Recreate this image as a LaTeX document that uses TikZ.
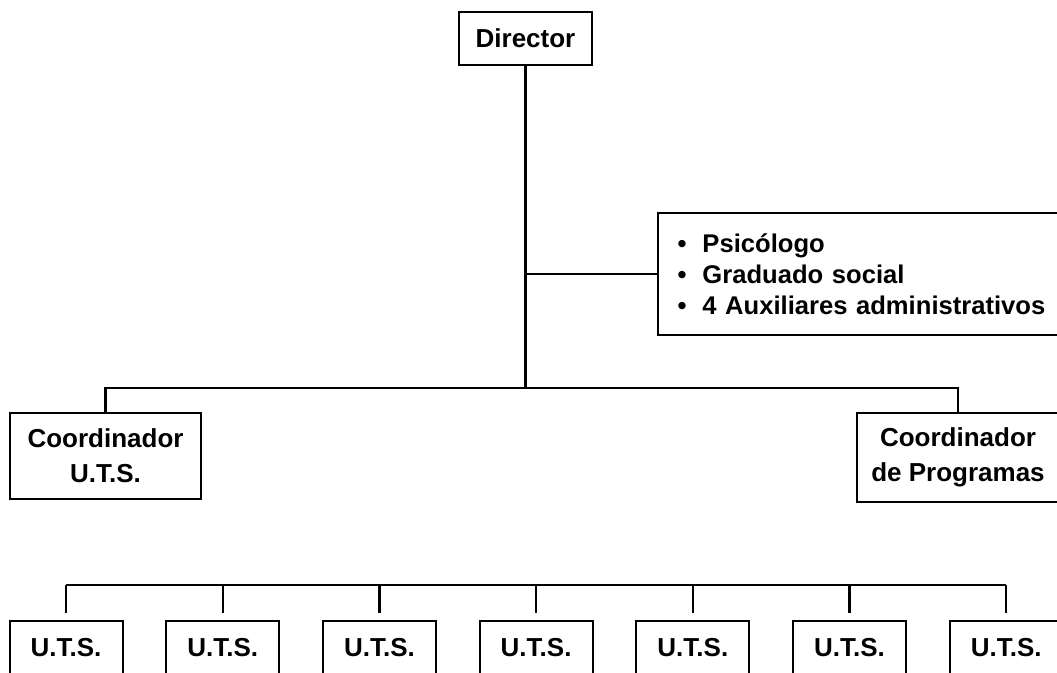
\documentclass[tikz,border=0pt]{standalone}
\usepackage{fontspec}
\setmainfont{Liberation Sans}
\begin{document}
\begin{tikzpicture}[x=0.5pt,y=-0.5pt,
  box/.style={draw, line width=1pt, font=\fontsize{13}{17.5}\selectfont\bfseries, align=center, inner sep=0pt},
  link/.style={line width=1.2pt}]
\clip (0,0) rectangle (1057,673);
% top of the chart
\node[box, minimum width=66.5pt, minimum height=26.5pt] (director) at (525.5,38.5) {Director};
\node[box, anchor=north west, text width=205pt, inner xsep=9.75pt, minimum height=61pt, align=left,
  font=\fontsize{12.8}{15.5}\selectfont\bfseries] (staff) at (657,212)
  {\textbullet\hspace{8pt}Psicólogo\\ \textbullet\hspace{8pt}Graduado social\\ \textbullet\hspace{8pt}4 Auxiliares administrativos};
\node[box, minimum width=95.5pt, minimum height=43pt] (coordUTS) at (105.5,456) {Coordinador\\U.T.S.};
\node[box, minimum width=101pt, minimum height=44.5pt] (coordProg) at (958,457.5) {Coordinador\\de Programas};
% row of units, cut by the lower edge
\foreach \i in {1,...,7}
  \node[box, anchor=north, minimum width=56.5pt, text height=14pt, text depth=30pt, inner ysep=4pt] (uts\i) at ({66+156.7*(\i-1)},620) {U.T.S.};
\coordinate (hub) at (director.south |- 0,388);
\coordinate (tap) at (director.south |- staff.west);
\draw[link] (director.south) -- (hub);
\draw[link] (tap) -- (staff.west);
\draw[link] (hub) -| (coordUTS.north);
\draw[link] (hub) -| (coordProg.north);
\foreach \i in {1,...,7}
  \coordinate (drop\i) at ([yshift=17.5pt]uts\i.north);
\draw[link] (drop1) -- (drop7);
\foreach \i in {1,...,7}
  \draw[link, shorten >=3.5pt] (drop\i) -- (uts\i.north);
\end{tikzpicture}
\end{document}
